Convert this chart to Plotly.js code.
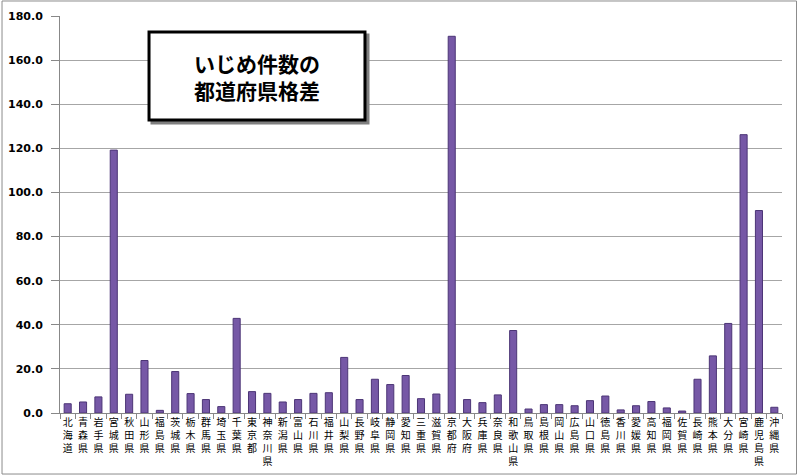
<!DOCTYPE html>
<html>
<head>
<meta charset="utf-8">
<script src="https://cdn.plot.ly/plotly-3.0.1.min.js"></script>
<style>
  html, body { margin: 0; padding: 0; background: #ffffff; }
  #myDiv { width: 798px; height: 476px; }
</style>
</head>
<body>
<div id="myDiv"></div>
<script>
var prefectures = [
  '北海道', '青森県', '岩手県', '宮城県', '秋田県', '山形県', '福島県', '茨城県',
  '栃木県', '群馬県', '埼玉県', '千葉県', '東京都', '神奈川県', '新潟県', '富山県',
  '石川県', '福井県', '山梨県', '長野県', '岐阜県', '静岡県', '愛知県', '三重県',
  '滋賀県', '京都府', '大阪府', '兵庫県', '奈良県', '和歌山県', '鳥取県', '島根県',
  '岡山県', '広島県', '山口県', '徳島県', '香川県', '愛媛県', '高知県', '福岡県',
  '佐賀県', '長崎県', '熊本県', '大分県', '宮崎県', '鹿児島県', '沖縄県'
];

var ijimeCounts = [
  4.2, 5.0, 7.3, 119.2, 8.5, 23.8, 1.2, 18.8,
  8.8, 6.1, 2.9, 42.9, 9.7, 8.9, 5.0, 6.1,
  8.9, 9.2, 25.2, 6.1, 15.3, 12.9, 17.0, 6.5,
  8.6, 170.8, 6.1, 4.7, 8.2, 37.4, 1.8, 3.8,
  3.8, 3.3, 5.6, 7.7, 1.4, 3.3, 5.2, 2.3,
  0.9, 15.3, 25.9, 40.6, 126.2, 91.8, 2.6
];

var yTicks = [0, 20, 40, 60, 80, 100, 120, 140, 160, 180];

// NOTE: stack the characters so the labels read top to bottom
var verticalLabels = prefectures.map(function (name) {
  return name.split('').join('<br>');
});

var trace = [{
  type: 'bar',
  x: prefectures,
  y: ijimeCounts,
  marker: {
    color: '#7658a6',
    line: { color: '#4c3576', width: 1 }
  },
  hoverinfo: 'x+y'
}];

var layout = {
  width: 798,
  height: 476,
  margin: { l: 60, r: 16, t: 16, b: 63 },
  paper_bgcolor: '#ffffff',
  plot_bgcolor: '#ffffff',
  showlegend: false,
  bargap: 0.54,
  xaxis: {
    type: 'category',
    tickmode: 'array',
    tickvals: prefectures,
    ticktext: verticalLabels,
    tickangle: 0,
    ticks: 'outside',
    tickson: 'boundaries',
    ticklen: 5,
    tickcolor: '#888888',
    showline: true,
    linecolor: '#888888',
    linewidth: 1,
    showgrid: false,
    zeroline: false,
    tickfont: { family: 'Noto Sans CJK JP', size: 10, color: '#000000' },
    fixedrange: true
  },
  yaxis: {
    range: [0, 180],
    tickmode: 'array',
    tickvals: yTicks,
    tickformat: '.1f',
    ticks: 'outside',
    ticklen: 8,
    tickcolor: '#888888',
    ticklabelstandoff: 6,
    showline: true,
    linecolor: '#888888',
    linewidth: 1,
    showgrid: true,
    gridcolor: '#a6a6a6',
    gridwidth: 1,
    zeroline: false,
    tickfont: { family: 'DejaVu Sans', size: 11, weight: 'bold', color: '#000000' },
    fixedrange: true
  },
  shapes: [
    // outer chart frame
    {
      type: 'rect', xref: 'paper', yref: 'paper',
      x0: -0.0803, x1: 1.0201, y0: -0.1537, y1: 1.0378,
      line: { color: '#8c8c8c', width: 1 },
      fillcolor: 'rgba(0,0,0,0)', layer: 'above'
    },
    // title box shadow
    {
      type: 'rect', xref: 'paper', yref: 'paper',
      x0: 0.1274, x1: 0.4266, y0: 0.7305, y1: 0.9522,
      line: { color: '#7f7f7f', width: 3 },
      fillcolor: '#7f7f7f', layer: 'above'
    },
    // title box
    {
      type: 'rect', xref: 'paper', yref: 'paper',
      x0: 0.1233, x1: 0.4224, y0: 0.7380, y1: 0.9597,
      line: { color: '#000000', width: 3 },
      fillcolor: '#ffffff', layer: 'above'
    }
  ],
  annotations: [
    {
      xref: 'paper', yref: 'paper',
      x: 0.2729, y: 0.8488,
      xanchor: 'center', yanchor: 'middle',
      text: 'いじめ件数の<br>都道府県格差',
      showarrow: false,
      align: 'center',
      font: { family: 'Noto Sans CJK JP', size: 21, weight: 'bold', color: '#000000' }
    }
  ]
};

var config = { displayModeBar: false, staticPlot: true };

Plotly.newPlot('myDiv', trace, layout, config);
</script>
</body>
</html>
